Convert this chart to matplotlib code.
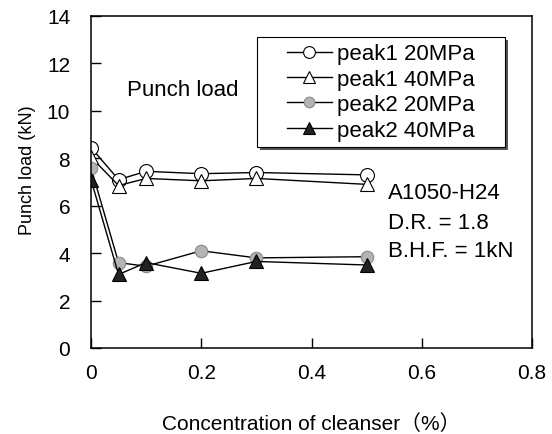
import matplotlib
matplotlib.use("Agg")
import matplotlib.pyplot as plt
from matplotlib.patches import Rectangle

plt.rcParams['font.family'] = ['Liberation Sans', 'Noto Sans CJK JP', 'DejaVu Sans']

# concentration of cleanser (%)
conc = [0.0, 0.05, 0.1, 0.2, 0.3, 0.5]

# punch load (kN)
p1_20 = [8.45, 7.1, 7.45, 7.35, 7.4, 7.3]
p1_40 = [8.05, 6.85, 7.15, 7.05, 7.15, 6.9]
p2_20 = [7.6, 3.6, 3.45, 4.1, 3.8, 3.85]
p2_40 = [7.1, 3.1, 3.6, 3.15, 3.65, 3.5]

labels = ['peak1 20MPa', 'peak1 40MPa', 'peak2 20MPa', 'peak2 40MPa']

fig = plt.figure(figsize=(5.52, 4.35), dpi=100)
ax = fig.add_axes([91 / 552, 1 - 349 / 435, 441 / 552, 332 / 435])

ax.plot(conc, p1_20, '-o', color='black', lw=1, ms=10, mfc='white', mec='black', mew=0.8, label=labels[0])
ax.plot(conc, p1_40, '-^', color='black', lw=1, ms=10, mfc='white', mec='black', mew=0.8, label=labels[1])
ax.plot(conc, p2_20, '-o', color='black', lw=1, ms=9, mfc='#b4b4b4', mec='#8a8a8a', mew=0.8, label=labels[2])
ax.plot(conc, p2_40, '-^', color='black', lw=1, ms=10, mfc='#222222', mec='black', mew=0.8, label=labels[3])

ax.set_xlim(0, 0.8)
ax.set_ylim(0, 14)
ax.set_xticks([0, 0.2, 0.4, 0.6, 0.8])
ax.set_xticklabels(['0', '0.2', '0.4', '0.6', '0.8'])
ax.set_yticks(range(0, 15, 2))
ax.tick_params(direction='in', length=7, width=1, labelsize=15)
ax.tick_params(axis='x', pad=11)
ax.tick_params(axis='y', pad=15)
for s in ax.spines.values():
    s.set_linewidth(1.1)

ax.set_xlabel('Concentration of cleanser（%）', fontsize=15)
ax.xaxis.set_label_coords(0.5, -0.195)
ax.set_ylabel('Punch load (kN)', fontsize=13)
ax.yaxis.set_label_coords(-0.125, 0.54)

ax.text(0.066, 10.9, 'Punch load', fontsize=16, ha='left', va='center')
ax.text(0.538, 6.55, 'A1050-H24', fontsize=16, ha='left', va='center')
ax.text(0.538, 5.3, 'D.R. = 1.8', fontsize=16, ha='left', va='center')
ax.text(0.538, 4.1, 'B.H.F. = 1kN', fontsize=16, ha='left', va='center')

# legend frame with drop shadow
x0, y0, w, h = 0.376, 0.605, 0.563, 0.332
ax.add_patch(Rectangle((x0 + 0.007, y0 - 0.009), w, h, transform=ax.transAxes,
                       facecolor='#555555', edgecolor='none', zorder=4))
ax.add_patch(Rectangle((x0, y0), w, h, transform=ax.transAxes,
                       facecolor='white', edgecolor='black', lw=0.8, zorder=5))
leg = ax.legend(loc='center', bbox_to_anchor=(x0 + w / 2, y0 + h / 2), frameon=False,
                fontsize=16, handlelength=2.0, handletextpad=0.25,
                labelspacing=0.2, borderpad=0, markerscale=0.85)
leg.set_zorder(6)

fig.savefig('out.png', dpi=100)
